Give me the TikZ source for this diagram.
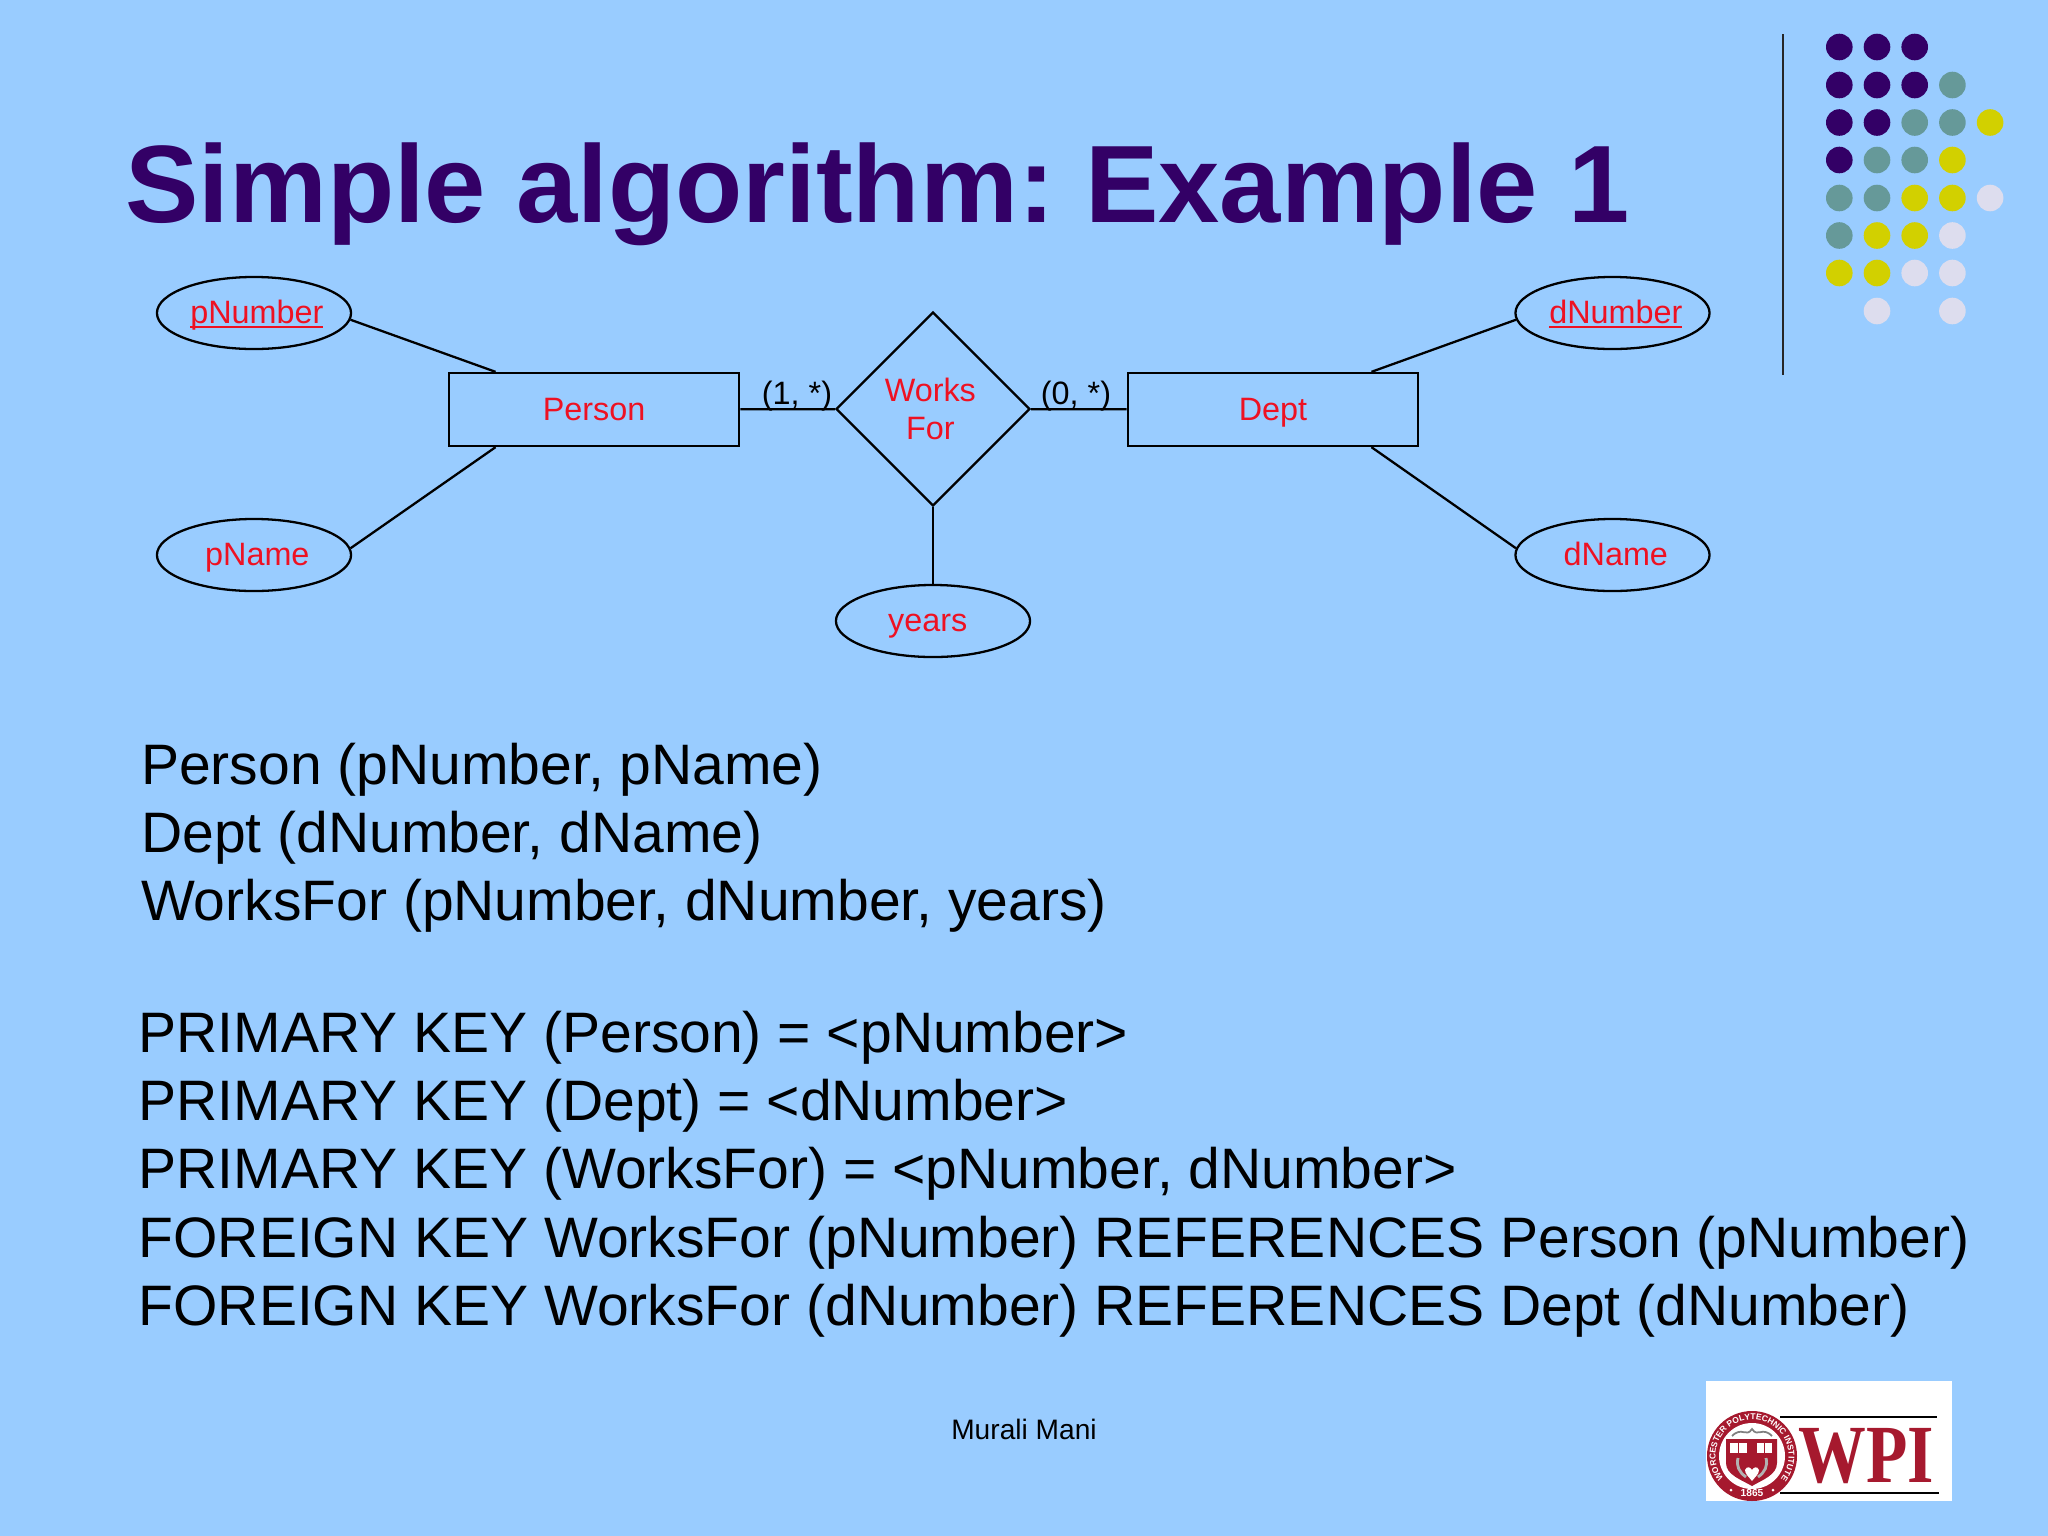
\documentclass[tikz,border=0pt]{standalone}
\usepackage{graphicx}
\usepackage{fontspec}
\setmainfont{Liberation Sans}
\newfontfamily\logofont{Liberation Serif}
\usetikzlibrary{shapes.geometric,decorations.text}
\definecolor{slideblue}{HTML}{99CCFF}
\definecolor{titlepurple}{HTML}{330066}
\definecolor{dotteal}{HTML}{669999}
\definecolor{dotyellow}{HTML}{D2D000}
\definecolor{dotlilac}{HTML}{DDDDEE}
\definecolor{ertext}{HTML}{EE1122}
\definecolor{logored}{HTML}{A6192E}
\newcommand{\keyname}[1]{\setbox0=\hbox{#1}\rlap{\vrule width\wd0 height -0.6pt depth 1.3pt}\box0}
\frenchspacing
\tikzset{
    ertext/.style={font=\fontsize{9.2}{10.9}\selectfont, text=ertext, align=center, inner sep=0pt},
    entity/.style={ertext, draw, rectangle, text height=7.2pt, text depth=1.2pt, minimum width=2.905cm, minimum height=0.73cm},
    attrib/.style={ertext, draw, ellipse, inner sep=-2pt, text height=7.2pt, text depth=1.2pt, minimum width=1.94cm, minimum height=0.72cm},
    relship/.style={ertext, draw, diamond, aspect=1, minimum width=1.94cm, minimum height=1.94cm},
    card/.style={font=\fontsize{9.2}{11}\selectfont, inner sep=0pt, anchor=base},
    bodytext/.style={font=\fontsize{16.22}{19.4}\selectfont, align=left, inner sep=0pt, anchor=north west}
}
\begin{document}
\begin{tikzpicture}[x=0.01cm, y=-0.01cm, line width=0.65pt]
    \useasboundingbox (0,0) rectangle (2048,1536);
    \fill[slideblue] (0,0) rectangle (2048,1536);

    % title
    \node[font=\fontsize{31.3}{36}\selectfont\bfseries, text=titlepurple, inner sep=0pt, anchor=base west] (title) at (124,222) {Simple algorithm: Example 1};

    % corner decoration
    \draw[line width=0.65pt, black!85] (1783,34) -- (1783,375);
    \foreach \y/\cols in {47/{titlepurple,titlepurple,titlepurple},
                          85/{titlepurple,titlepurple,titlepurple,dotteal},
                          122.5/{titlepurple,titlepurple,dotteal,dotteal,dotyellow},
                          160/{titlepurple,dotteal,dotteal,dotyellow},
                          198/{dotteal,dotteal,dotyellow,dotyellow,dotlilac},
                          235.5/{dotteal,dotyellow,dotyellow,dotlilac},
                          273/{dotyellow,dotyellow,dotlilac,dotlilac},
                          311/{slideblue,dotlilac,slideblue,dotlilac}} {
        \foreach \c [count=\i from 0] in \cols {
            \fill[\c] ({1839.3+37.7*\i},\y) circle (13.3);
        }
    }

    % ER diagram
    \node[entity] (person) at (594,409.5) {Person};
    \node[entity] (dept) at (1273,409.5) {Dept};
    \node[relship] (worksfor) at (933,409) {Works\kern1.5pt\\For\kern1.5pt};
    \node[attrib] (pnumber) at (254,313) {\kern1.6pt\keyname{pNumber}};
    \node[attrib] (pname) at (254,555) {\kern1.9pt pName};
    \node[attrib] (dnumber) at (1612.5,313) {\kern1.9pt\keyname{dNumber}};
    \node[attrib] (dname) at (1612.5,555) {\kern1.9pt dName};
    \node[attrib] (years) at (933,621) {years\kern3pt};

    \draw (pnumber.-4) -- ([xshift=0.48cm]person.north west);
    \draw (pname.4) -- ([xshift=0.48cm]person.south west);
    \draw (dnumber.184) -- ([xshift=-0.48cm]dept.north east);
    \draw (dname.176) -- ([xshift=-0.48cm]dept.south east);
    \draw (person) -- (worksfor);
    \draw (worksfor) -- (dept);
    \draw (worksfor) -- (years);

    \node[card] (cardperson) at (797,404) {(1, *)};
    \node[card] (carddept) at (1076,404) {(0, *)};

    % relational schema
    \node[bodytext] (relations) at (140,742) {Person (pNumber, pName)\\Dept (dNumber, dName)\\WorksFor (pNumber, dNumber, years)};
    \node[bodytext] (keys) at (137.5,1010) {PRIMARY KEY (Person) = <pNumber>\\PRIMARY KEY (Dept) = <dNumber>\\PRIMARY KEY (WorksFor) = <pNumber, dNumber>\\FOREIGN KEY WorksFor (pNumber) REFERENCES Person (pNumber)\\FOREIGN KEY WorksFor (dNumber) REFERENCES Dept (dNumber)};

    % footer
    \node[font=\fontsize{8}{10}\selectfont, inner sep=0pt] (footer) at (1024,1429) {Murali Mani};

    % logo
    \fill[white] (1706,1381) rectangle (1952,1501);
    \draw[line width=0.6pt] (1780,1417) -- (1937,1417);
    \draw[line width=0.8pt] (1780,1493) -- (1939,1493);
    \node[font=\fontsize{23.5}{26}\logofont\bfseries, text=logored, inner sep=0pt, anchor=base] (wpi) at (1866,1482) {\scalebox{0.82}[1]{WPI}};
    \fill[logored] (1752,1456) circle (45);
    \fill[white] (1752,1456) circle (33);
    \path[decorate, decoration={text along path, text align=center, text color=white,
        text={|\fontsize{2.4}{3}\selectfont\bfseries|WORCESTER POLYTECHNIC INSTITUTE}}]
        (1752,1456) ++(-220:36.5) arc[start angle=-220, end angle=40, radius=36.5];
    \node[font=\fontsize{2.9}{4}\selectfont\bfseries, text=white, inner sep=0pt] (year) at (1752,1493) {1865};
    \fill[white] (1731,1490) circle (1.5);
    \fill[white] (1773,1490) circle (1.5);
    \draw[gray, line width=0.5pt] (1732,1436) .. controls (1742,1426) and (1746,1438) .. (1752,1429) .. controls (1758,1438) and (1762,1426) .. (1772,1436);
    \fill[logored] (1726,1439) -- (1777,1439) -- (1777,1463) .. controls (1777,1475) and (1762,1480) .. (1752,1486) .. controls (1742,1480) and (1726,1475) .. (1726,1463) -- cycle;
    \fill[white] (1730,1443) rectangle (1747,1453);
    \fill[white] (1757,1443) rectangle (1772,1453);
    \draw[logored, line width=0.3pt] (1738.5,1443) -- (1738.5,1453);
    \draw[logored, line width=0.3pt] (1764.5,1443) -- (1764.5,1453);
    \draw[gray!60, line width=0.8pt] (1738,1458) .. controls (1736,1466) and (1739,1472) .. (1746,1477);
    \draw[gray!60, line width=0.8pt] (1766,1458) .. controls (1768,1466) and (1765,1472) .. (1758,1477);
    \fill[white] (1745,1470) .. controls (1747,1465) and (1751,1468) .. (1752,1470) .. controls (1753,1468) and (1757,1465) .. (1759,1470) .. controls (1759,1474) and (1755,1477) .. (1752,1481) .. controls (1749,1477) and (1745,1474) .. (1745,1470) -- cycle;
\end{tikzpicture}
\end{document}
